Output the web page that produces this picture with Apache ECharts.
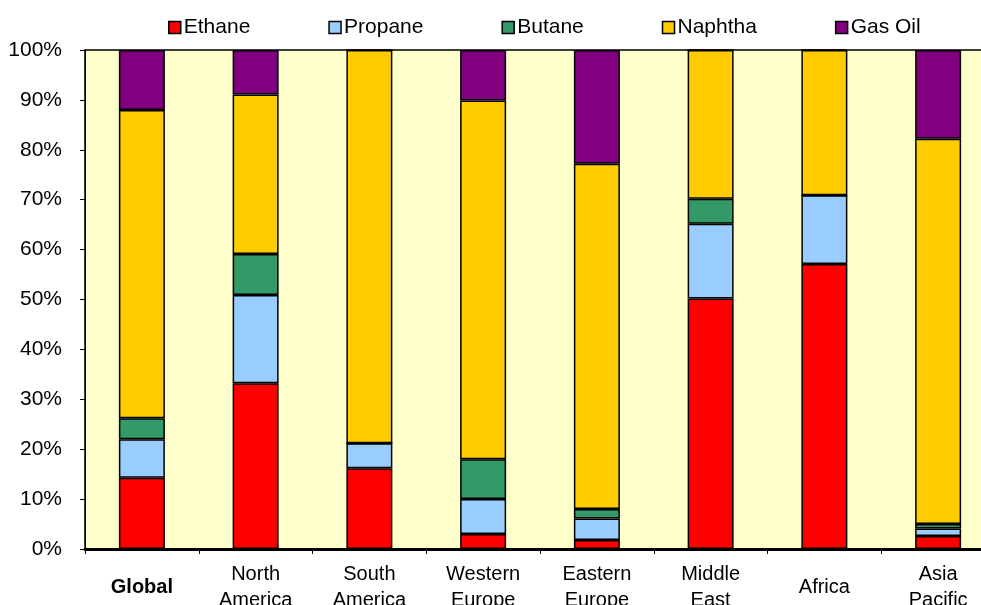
<!DOCTYPE html>
<html>
<head>
<meta charset="utf-8">
<script src="https://cdn.jsdelivr.net/npm/echarts@6/dist/echarts.min.js"></script>
<style>
  html, body { margin: 0; padding: 0; background: #fff; }
  #chart { width: 981px; height: 605px; }
</style>
</head>
<body>
<div id="chart"></div>
<script>
// Feedstock share by region (percent of total)
const regions = ['Global', 'North\nAmerica', 'South\nAmerica', 'Western\nEurope', 'Eastern\nEurope', 'Middle\nEast', 'Africa', 'Asia\nPacific'];
const ethane  = [14.3, 33.2, 16.2, 3.0, 1.8, 50.2, 57.1, 2.6];
const propane = [7.7, 17.7, 5.0, 7.0, 4.3, 15.0, 13.8, 1.5];
const butane  = [4.2, 8.2, 0, 8.0, 1.9, 5.0, 0, 0.9];
const naphtha = [61.8, 32.0, 78.8, 71.9, 69.2, 29.8, 29.1, 77.2];
const gasOil  = [12.0, 8.9, 0, 10.1, 22.8, 0, 0, 17.8];
const yTicks = [0, 10, 20, 30, 40, 50, 60, 70, 80, 90, 100];

const seriesDefs = [
  { name: 'Ethane', data: ethane, color: '#FF0000' },
  { name: 'Propane', data: propane, color: '#99CCFF' },
  { name: 'Butane', data: butane, color: '#339966' },
  { name: 'Naphtha', data: naphtha, color: '#FFCC00' },
  { name: 'Gas Oil', data: gasOil, color: '#800080' }
];

const font = 'Liberation Sans, Arial, sans-serif';
const chart = echarts.init(document.getElementById('chart'));
chart.setOption({
  animation: false,
  textStyle: { fontFamily: font },
  legend: {
    top: 12,
    left: 163,
    itemWidth: 12,
    itemHeight: 12,
    itemGap: 78,
    icon: 'rect',
    textStyle: { fontSize: 21, color: '#000', fontFamily: font, padding: [0, 0, 0, -2] },
    data: seriesDefs.map(s => ({ name: s.name, itemStyle: { borderColor: '#000', borderWidth: 1.5 } }))
  },
  grid: {
    left: 85,
    top: 50,
    bottom: 56,
    right: -14,
    containLabel: false,
    outerBoundsMode: 'none',
    show: true,
    backgroundColor: '#FFFFCC',
    borderColor: '#000',
    borderWidth: 1.5
  },
  xAxis: {
    type: 'category',
    data: regions,
    axisLine: { lineStyle: { color: '#000', width: 3 } },
    axisTick: { show: true, length: 5, lineStyle: { color: '#000', width: 1 } },
    axisLabel: {
      interval: 0,
      margin: 38,
      verticalAlign: 'middle',
      fontSize: 20,
      lineHeight: 26,
      color: '#000',
      fontFamily: font,
      formatter: v => v === 'Global' ? '{b|Global}' : v,
      rich: { b: { fontWeight: 'bold', fontSize: 20, fontFamily: font, color: '#000' } }
    }
  },
  yAxis: {
    type: 'value',
    min: yTicks[0],
    max: yTicks[yTicks.length - 1],
    interval: yTicks[1] - yTicks[0],
    axisLine: { show: true, lineStyle: { color: '#000', width: 1 } },
    axisTick: { show: true, length: 5, lineStyle: { color: '#000' } },
    splitLine: { show: false },
    axisLabel: { formatter: '{value}%', fontSize: 21, color: '#000', margin: 23, fontFamily: font }
  },
  series: seriesDefs.map(s => ({
    name: s.name,
    type: 'bar',
    stack: 'share',
    barWidth: 46,
    data: s.data,
    itemStyle: { color: s.color, borderColor: '#000', borderWidth: 1.5 }
  }))
});
</script>
</body>
</html>
